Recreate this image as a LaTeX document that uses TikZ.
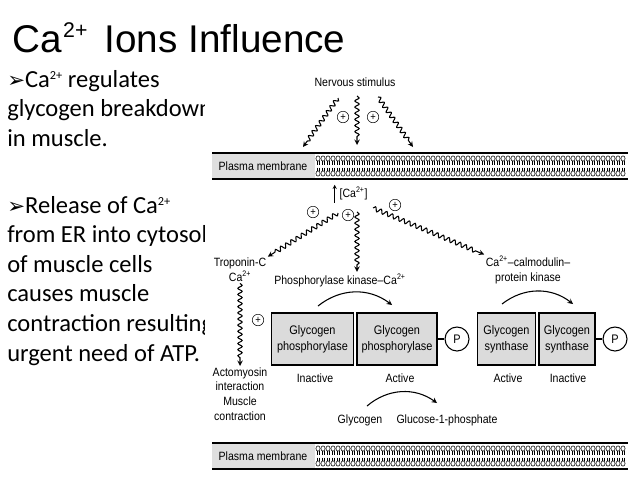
\documentclass[tikz,border=0pt]{standalone}
\usepackage{fontspec}
\setmainfont{Carlito}
\newfontfamily\titlefont{Liberation Sans}
\newfontfamily\diagfont[FakeStretch=0.88]{Liberation Sans}
\newfontfamily\symfont{DejaVu Sans}
\usetikzlibrary{decorations.pathmorphing}

\newcommand{\bulletarrow}{{\symfont\fontsize{16}{16}\selectfont ➢}}
\newcommand{\ionsup}[2][0.5]{\raisebox{#2}{\scalebox{#1}{2+}}}

\tikzset{
  wave/.style={thick, -stealth, decorate,
    decoration={snake, amplitude=1.6pt, segment length=4.6pt, post length=5pt}},
  plus/.style={circle, draw, thin, inner sep=0pt, minimum size=8.6pt,
    font=\diagfont\fontsize{8}{8}\selectfont},
  enzyme/.style={draw, thick, fill=gray!28, minimum height=39pt, align=center,
    inner sep=1pt, font=\diagfont\fontsize{9.3}{12}\selectfont},
  phos/.style={circle, draw, thick, minimum size=18pt, inner sep=0pt,
    font=\diagfont\fontsize{9.3}{9.3}\selectfont},
  lbl/.style={align=center, inner sep=1pt, font=\diagfont\fontsize{9}{11}\selectfont},
  line/.style={anchor=base west, inner sep=0pt, font=\fontsize{18.4}{22}\selectfont},
  bendarrow/.style={thick, -stealth, bend left=38}
}

\begin{document}
\begin{tikzpicture}[x=0.75pt, y=-0.75pt]
\useasboundingbox (0,0) rectangle (638,479);

\node[anchor=base west, inner sep=0pt, font=\titlefont\fontsize{29}{29}\selectfont]
  (title) at (12,52) {Ca\kern0.04em\ionsup[0.55]{0.37em}\, Ions Influence};

\foreach \t [count=\i] in {\bulletarrow Ca\ionsup{0.32em} regulates,
    glycogen breakdown, in muscle.}
  \node[line] (first\i) at (7,87+29.5*\i-29.5) {\t};
\foreach \t [count=\i] in {\bulletarrow Release of Ca\ionsup{0.32em},
    from ER into cytosol, of muscle cells, causes muscle,
    contraction resulting in, urgent need of ATP.}
  \node[line] (second\i) at (7,213+29.6*\i-29.6) {\t};

\fill[white] (205,60) rectangle (638,479);

\foreach \y/\n in {153/top, 443/bot} {
  \fill[gray!25] (212,\y) rectangle (315,\y+26);
  \foreach \x in {318,323,...,625} {
    \draw[thin] (\x,\y+5.5) ellipse (2.1 and 2.6);
    \draw[thin] (\x,\y+20.5) ellipse (2.1 and 2.6);
    \draw[very thin] (\x-0.8,\y+8.1) -- (\x-0.8,\y+11.5);
    \draw[very thin] (\x+0.8,\y+8.1) -- (\x+0.8,\y+11.5);
    \draw[very thin] (\x-0.8,\y+14.5) -- (\x-0.8,\y+17.9);
    \draw[very thin] (\x+0.8,\y+14.5) -- (\x+0.8,\y+17.9);
  }
  \draw[very thick] (212,\y) -- (628,\y);
  \draw[very thick] (212,\y+26) -- (628,\y+26);
  \node[lbl] (pm\n) at (263,\y+13) {Plasma membrane};
}

\node[lbl] (nerve) at (355,82) {Nervous stimulus};
\coordinate (n1) at (338,98);
\coordinate (n2) at (357,96);
\coordinate (n3) at (378,97);
\coordinate (m1) at (303,147);
\coordinate (m2) at (357,145);
\coordinate (m3) at (413,147);
\draw[wave] (n1) -- (m1);
\draw[wave] (n2) -- (m2);
\draw[wave] (n3) -- (m3);
\node[plus] (p1) at (343,117) {+};
\node[plus] (p2) at (373,117) {+};

\node[lbl, anchor=west] (ca) at (338,193) {[Ca\textsuperscript{2+}]};
\draw[thin, -stealth] ([xshift=-2.5pt, yshift=-1pt]ca.south west) -- ([xshift=-2.5pt]ca.north west);
\node[plus] (p3) at (313,212) {+};
\node[plus] (p4) at (348,215) {+};
\node[plus] (p5) at (395,205) {+};
\coordinate (c1) at (338,213);
\coordinate (c2) at (357,212);
\coordinate (c3) at (373,208);

\node[lbl] (tropo) at (240,270) {Troponin-C\\Ca\textsuperscript{2+}};
\node[lbl] (kinase) at (340,280) {Phosphorylase kinase–Ca\textsuperscript{2+}};
\node[lbl] (calmod) at (528,270) {Ca\textsuperscript{2+}–calmodulin–\\protein kinase};
\draw[wave] (c1) -- (tropo.north east);
\draw[wave] (c2) -- (kinase.north -| c2);
\draw[wave] (c3) -- (calmod.north west);

\node[lbl] (acto) at (240,394) {Actomyosin\\interaction\\Muscle\\contraction};
\draw[wave] (tropo.south) -- (acto.north);
\node[plus] (p6) at (258,320) {+};

\node[enzyme, minimum width=61pt] (gp1) at (312.5,339) {Glycogen\\phosphorylase};
\node[enzyme, minimum width=60pt] (gp2) at (397,339) {Glycogen\\phosphorylase};
\node[phos] (ph1) at (457,339) {P};
\draw[thick] (gp2) -- (ph1);
\node[enzyme, minimum width=43pt] (gs1) at (506.5,339) {Glycogen\\synthase};
\node[enzyme, minimum width=42pt] (gs2) at (567,339) {Glycogen\\synthase};
\node[phos] (ph2) at (615,339) {P};
\draw[thick] (gs2) -- (ph2);

\node[lbl] (st1) at (315,378) {Inactive};
\node[lbl] (st2) at (400,378) {Active};
\node[lbl] (st3) at (508,378) {Active};
\node[lbl] (st4) at (568,378) {Inactive};

\coordinate (k1) at (318,306);
\coordinate (k2) at (392,305);
\draw[bendarrow] (k1) to (k2);
\coordinate (k3) at (502,304);
\coordinate (k4) at (573,304);
\draw[bendarrow] (k3) to (k4);

\node[lbl] (glyc) at (360,420) {Glycogen};
\node[lbl] (g1p) at (447,420) {Glucose-1-phosphate};
\coordinate (g1) at (367,406);
\coordinate (g2) at (437,403);
\draw[bendarrow] (g1) to (g2);
\end{tikzpicture}
\end{document}
